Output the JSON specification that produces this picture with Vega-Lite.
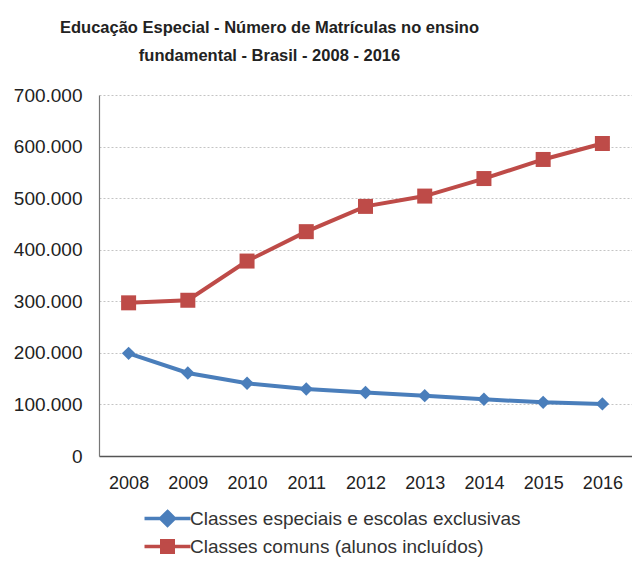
{
  "$schema": "https://vega.github.io/schema/vega-lite/v6.json",
  "width": 533,
  "height": 361,
  "autosize": {"type": "none"},
  "padding": {"left": 99, "top": 95, "right": 0, "bottom": 128},
  "background": "white",
  "config": {
    "view": {"stroke": null},
    "locale": {"number": {"decimal": ",", "thousands": ".", "grouping": [3], "currency": ["R$", ""]}}
  },
  "title": {
    "text": ["Educação Especial - Número de Matrículas no ensino", "fundamental - Brasil - 2008 - 2016"],
    "font": "Liberation Sans, Arial, sans-serif",
    "fontSize": 16.5,
    "fontWeight": "bold",
    "color": "#222222",
    "lineHeight": 28,
    "anchor": "middle",
    "frame": "group",
    "dx": -96,
    "offset": 22
  },
  "data": {
    "values": [
      {"ano": "2008", "serie": "Classes especiais e escolas exclusivas", "matriculas": 199000},
      {"ano": "2009", "serie": "Classes especiais e escolas exclusivas", "matriculas": 161000},
      {"ano": "2010", "serie": "Classes especiais e escolas exclusivas", "matriculas": 141000},
      {"ano": "2011", "serie": "Classes especiais e escolas exclusivas", "matriculas": 130000},
      {"ano": "2012", "serie": "Classes especiais e escolas exclusivas", "matriculas": 123000},
      {"ano": "2013", "serie": "Classes especiais e escolas exclusivas", "matriculas": 117000},
      {"ano": "2014", "serie": "Classes especiais e escolas exclusivas", "matriculas": 110000},
      {"ano": "2015", "serie": "Classes especiais e escolas exclusivas", "matriculas": 104000},
      {"ano": "2016", "serie": "Classes especiais e escolas exclusivas", "matriculas": 101000},
      {"ano": "2008", "serie": "Classes comuns (alunos incluídos)", "matriculas": 297000},
      {"ano": "2009", "serie": "Classes comuns (alunos incluídos)", "matriculas": 302000},
      {"ano": "2010", "serie": "Classes comuns (alunos incluídos)", "matriculas": 378000},
      {"ano": "2011", "serie": "Classes comuns (alunos incluídos)", "matriculas": 435000},
      {"ano": "2012", "serie": "Classes comuns (alunos incluídos)", "matriculas": 484000},
      {"ano": "2013", "serie": "Classes comuns (alunos incluídos)", "matriculas": 504000},
      {"ano": "2014", "serie": "Classes comuns (alunos incluídos)", "matriculas": 538000},
      {"ano": "2015", "serie": "Classes comuns (alunos incluídos)", "matriculas": 575000},
      {"ano": "2016", "serie": "Classes comuns (alunos incluídos)", "matriculas": 606000}
    ]
  },
  "encoding": {
    "x": {
      "field": "ano", "type": "ordinal",
      "scale": {"type": "point", "padding": 0.5},
      "axis": {
        "title": null, "labelAngle": 0, "ticks": false, "grid": false,
        "labelPadding": 18, "labelFont": "Liberation Sans, Arial, sans-serif", "labelFontSize": 18,
        "labelColor": "#222222", "domainColor": "#555555", "domainWidth": 1.5
      }
    },
    "y": {
      "field": "matriculas", "type": "quantitative",
      "scale": {"domain": [0, 700000], "nice": false},
      "axis": {
        "title": null, "values": [0, 100000, 200000, 300000, 400000, 500000, 600000, 700000],
        "format": ",d", "ticks": false, "labelPadding": 17,
        "labelFont": "Liberation Sans, Arial, sans-serif", "labelFontSize": 19, "labelColor": "#222222",
        "domainColor": "#777777", "domainWidth": 1.2,
        "gridColor": "#c4c4c4", "gridDash": [2, 2], "gridWidth": 1
      }
    },
    "color": {
      "field": "serie", "type": "nominal",
      "scale": {
        "domain": ["Classes especiais e escolas exclusivas", "Classes comuns (alunos incluídos)"],
        "range": ["#4a7ebb", "#be4b48"]
      },
      "legend": {
        "orient": "none", "legendX": 59, "legendY": 414, "direction": "vertical", "title": null,
        "padding": 0, "rowPadding": 0, "labelLimit": 0,
        "symbolSize": 235, "symbolStrokeWidth": 3.5, "labelOffset": 13,
        "symbolType": "M-3,0H3M0,-0.9L0.9,0L0,0.9L-0.9,0Z",
        "labelFont": "Liberation Sans, Arial, sans-serif", "labelFontSize": 19, "labelColor": "#333333",
        "encode": {
          "symbols": {
            "update": {
              "shape": [
                {"test": "datum.label === 'Classes comuns (alunos incluídos)'", "value": "M-3,0H3M-0.75,-0.75H0.75V0.75H-0.75Z"},
                {"value": "M-3,0H3M0,-0.9L0.9,0L0,0.9L-0.9,0Z"}
              ],
              "fill": [
                {"test": "datum.label === 'Classes comuns (alunos incluídos)'", "value": "#be4b48"},
                {"value": "#4a7ebb"}
              ],
              "stroke": [
                {"test": "datum.label === 'Classes comuns (alunos incluídos)'", "value": "#be4b48"},
                {"value": "#4a7ebb"}
              ],
              "opacity": {"value": 1},
              "strokeWidth": {"value": 3.5}
            }
          }
        }
      }
    }
  },
  "layer": [
    {"mark": {"type": "line", "strokeWidth": 4}},
    {
      "transform": [{"filter": "datum.serie === 'Classes especiais e escolas exclusivas'"}],
      "mark": {"type": "point", "shape": "diamond", "size": 180, "filled": true, "opacity": 1, "strokeWidth": 0}
    },
    {
      "transform": [{"filter": "datum.serie === 'Classes comuns (alunos incluídos)'"}],
      "mark": {"type": "point", "shape": "square", "size": 225, "filled": true, "opacity": 1, "strokeWidth": 0}
    }
  ]
}
